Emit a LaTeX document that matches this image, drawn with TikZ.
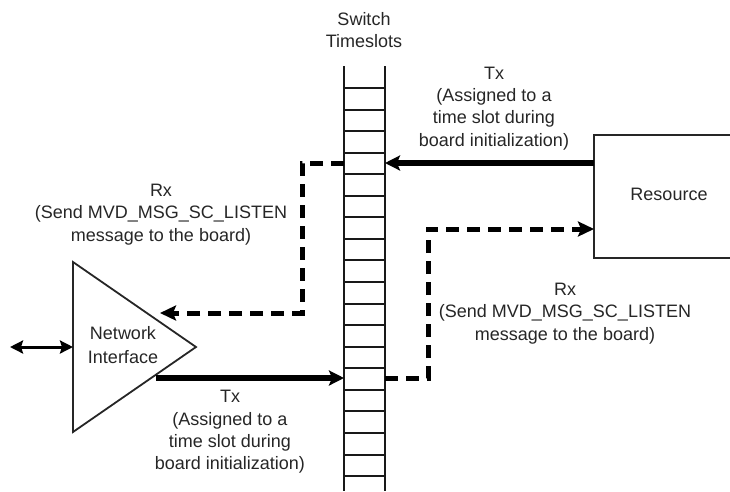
\documentclass[tikz,border=0pt]{standalone}
\usepackage{fontspec}
\setmainfont{Liberation Sans}
\usetikzlibrary{arrows.meta}
\tikzset{
  lbl/.style={align=center, inner sep=0pt, text=black!85, font=\fontsize{18}{22.3}\selectfont},
  rail/.style={line width=2.2pt, draw=black!90},
  rung/.style={line width=2pt, draw=black!90},
  solidarr/.style={line width=5.5pt, draw=black, -{Stealth[length=15pt,width=15pt,inset=3pt]}},
  dasharr/.style={line width=5pt, draw=black, dash pattern=on 13pt off 8pt, -{Stealth[length=16pt,width=15pt,inset=3pt]}},
  outline/.style={line width=1.8pt, draw=black!85},
}
\begin{document}
\begin{tikzpicture}[x=1pt,y=-1pt]
\useasboundingbox (0,0) rectangle (730,491);
% ladder (switch timeslots)
\coordinate (railLtop) at (344,66);
\coordinate (railLbot) at (344,491);
\coordinate (railRtop) at (385,66);
\coordinate (railRbot) at (385,491);
\draw[rail] (railLtop) -- (railLbot);
\draw[rail] (railRtop) -- (railRbot);
\foreach \i in {0,...,18}{
  \draw[rung] (344,{88+21.56*\i}) -- (385,{88+21.56*\i});
}
\node[lbl] (swt) at (364,30) {Switch\\Timeslots};
% ladder connection points
\coordinate (ladRtop) at (385,163);
\coordinate (ladLtop) at (344,163);
\coordinate (ladLbot) at (344,378);
\coordinate (ladRbot) at (385,378);
% resource box (open to the right edge)
\coordinate (resTL) at (594,135);
\coordinate (resBL) at (594,258);
\coordinate (resTR) at (731,135);
\coordinate (resBR) at (731,258);
\draw[outline, line width=2.3pt] (resTR) -- (resTL) -- (resBL) -- (resBR);
\node[lbl] (res) at (669,194) {Resource};
\coordinate (resTx) at (594,163);
\coordinate (resRx) at (594,229);
% network interface triangle
\coordinate (niTop) at (73,262);
\coordinate (niApex) at (196,347);
\coordinate (niBot) at (73,432);
\draw[outline, line join=miter] (niTop) -- (niApex) -- (niBot) -- cycle;
\node[lbl, font=\fontsize{18}{23.5}\selectfont] (ni) at (123,345) {Network\\Interface};
\coordinate (niLeft) at (73,347);
\coordinate (extEnd) at (10,347);
\coordinate (niRx) at (160,313);
\coordinate (niTx) at (156,378);
% connectors
\draw[line width=3pt, {Stealth[length=13pt,width=13pt,inset=2pt]}-{Stealth[length=13pt,width=13pt,inset=2pt]}] (extEnd) -- (niLeft);
\draw[solidarr] (resTx) -- (ladRtop);
\draw[solidarr] (niTx) -- (ladLbot);
\draw[dasharr] (ladLtop) -- (302,163) -- (302,313) -- (niRx);
\draw[dasharr] (ladRbot) -- (428,378) -- (428,229) -- (resRx);
% labels
\node[lbl] (txTop) at (494,108.5) {Tx\\(Assigned to a\\time slot during\\board initialization)};
\node[lbl] (rxLeft) at (161,214.5) {Rx\\(Send MVD\_MSG\_SC\_LISTEN\\message to the board)};
\node[lbl] (rxRight) at (565,313.5) {Rx\\(Send MVD\_MSG\_SC\_LISTEN\\message to the board)};
\node[lbl] (txBot) at (230,432) {Tx\\(Assigned to a\\time slot during\\board initialization)};
\end{tikzpicture}
\end{document}
